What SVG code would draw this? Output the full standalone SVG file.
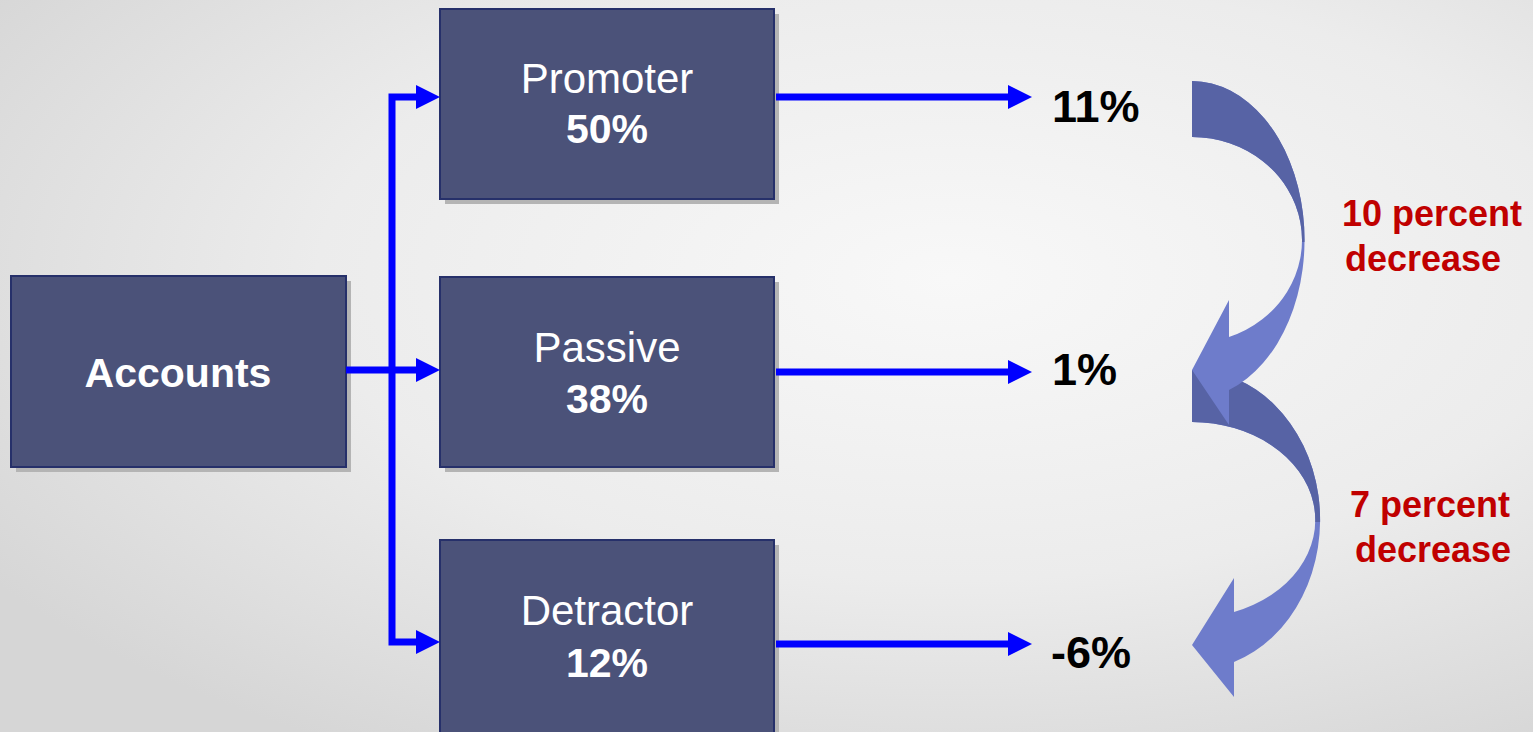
<svg xmlns="http://www.w3.org/2000/svg" width="1533" height="732" viewBox="0 0 1533 732">
<defs>
<radialGradient id="bg" cx="0.62" cy="0.38" r="0.75">
<stop offset="0" stop-color="#f8f8f8"/>
<stop offset="0.55" stop-color="#ececec"/>
<stop offset="1" stop-color="#d6d6d6"/>
</radialGradient>
<marker id="ah" markerUnits="userSpaceOnUse" viewBox="0 0 24 24" refX="0" refY="12" markerWidth="24" markerHeight="24" orient="auto">
<path d="M0,0 L24,12 L0,24 Z" fill="#0000ff"/>
</marker>
<clipPath id="top1"><rect x="1100" y="0" width="300" height="242"/></clipPath>
<clipPath id="top2"><rect x="1100" y="300" width="300" height="222"/></clipPath>
</defs>
<style>
.box{fill:#4b5279;stroke:#26306a;stroke-width:2}
.shadow{fill:#b4b4b4}
.name{font-family:"Liberation Sans",Arial,sans-serif;font-size:42px;fill:#ffffff;text-anchor:middle}
.pct{font-family:"Liberation Sans",Arial,sans-serif;font-size:41px;font-weight:bold;fill:#ffffff;text-anchor:middle}
.val{font-family:"Liberation Sans",Arial,sans-serif;font-size:45px;font-weight:bold;fill:#000000}
.red{font-family:"Liberation Sans",Arial,sans-serif;font-size:36px;font-weight:bold;fill:#c00000}
.conn{fill:none;stroke:#0000ff;stroke-width:7;marker-end:url(#ah)}
.dark{fill:#5763a5}
.light{fill:#6e7ccb}
</style>
<rect x="0" y="0" width="1533" height="732" fill="url(#bg)"/>

<g id="accounts">
<rect class="shadow" x="16" y="281" width="335" height="191"/>
<rect class="box" x="11" y="276" width="335" height="191"/>
<text class="pct" x="178" y="387" font-size="43">Accounts</text>
</g>

<g id="promoter">
<rect class="shadow" x="445" y="14" width="334" height="190"/>
<rect class="box" x="440" y="9" width="334" height="190"/>
<text class="name" x="607" y="93">Promoter</text>
<text class="pct" x="607" y="143">50%</text>
</g>

<g id="passive">
<rect class="shadow" x="445" y="282" width="334" height="190"/>
<rect class="box" x="440" y="277" width="334" height="190"/>
<text class="name" x="607" y="362">Passive</text>
<text class="pct" x="607" y="413">38%</text>
</g>

<g id="detractor">
<rect class="shadow" x="445" y="545" width="334" height="195"/>
<rect class="box" x="440" y="540" width="334" height="195"/>
<text class="name" x="607" y="625">Detractor</text>
<text class="pct" x="607" y="677">12%</text>
</g>

<g id="connectors">
<path class="conn" d="M346,370 H416"/>
<path class="conn" d="M392,370 V97 H416"/>
<path class="conn" d="M392,370 V642 H416"/>
<path class="conn" d="M776,97 H1008"/>
<path class="conn" d="M776,372 H1008"/>
<path class="conn" d="M776,644 H1008"/>
</g>

<g id="values">
<text class="val" x="1052" y="122">11%</text>
<text class="val" x="1052" y="385">1%</text>
<text class="val" x="1051" y="668">-6%</text>
</g>

<g id="curve2">
<path class="light" d="M1192,370 A127,150 0 0 1 1234,662 L1234,697 L1192,645 L1234,578 L1234,612 A124,98 0 0 0 1192,422 Z"/>
<path class="dark" clip-path="url(#top2)" d="M1192,370 A127,150 0 0 1 1234,662 L1234,697 L1192,645 L1234,578 L1234,612 A124,98 0 0 0 1192,422 Z"/>
</g>

<g id="curve1">
<path class="light" d="M1192,81 A113,159 0 0 1 1229,390 L1229,425 L1192,370 L1229,300 L1229,337 A110,103 0 0 0 1192,137 Z"/>
<path class="dark" clip-path="url(#top1)" d="M1192,81 A113,159 0 0 1 1229,390 L1229,425 L1192,370 L1229,300 L1229,337 A110,103 0 0 0 1192,137 Z"/>
</g>

<g id="labels">
<text class="red" x="1342" y="226">10 percent</text>
<text class="red" x="1345" y="271">decrease</text>
<text class="red" x="1350" y="517">7 percent</text>
<text class="red" x="1355" y="562">decrease</text>
</g>
</svg>
